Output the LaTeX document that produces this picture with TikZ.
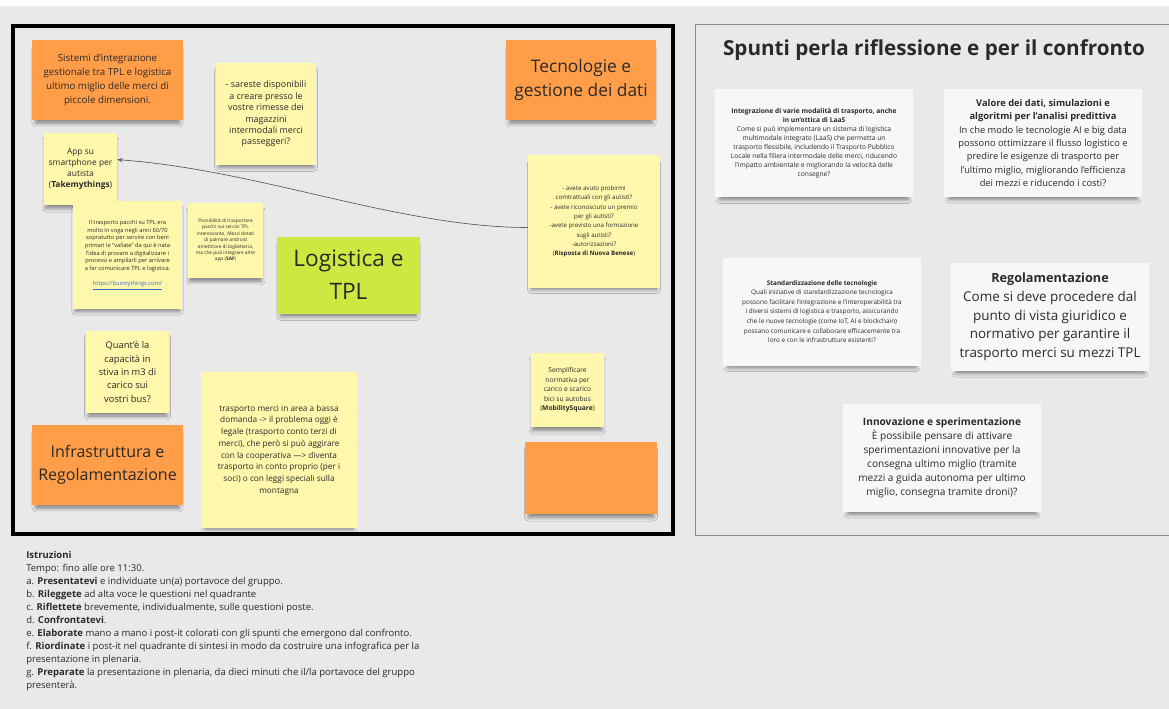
\documentclass[tikz,border=0pt]{standalone}
\usepackage{fontspec}
\setmainfont{Open Sans}
\usepackage{tikz}
\usetikzlibrary{positioning, arrows.meta, shadows.blur}

\definecolor{board}{HTML}{E9E9E9}
\definecolor{stickyyellow}{HTML}{FFF7AC}
\definecolor{stickyorange}{HTML}{FF9D48}
\definecolor{stickygreen}{HTML}{CEE741}
\definecolor{cardwhite}{HTML}{F7F7F8}
\definecolor{inktext}{HTML}{2A2A2A}
\definecolor{linkblue}{HTML}{2D6BD8}

\tikzset{
    sticky/.style={align=center, inner sep=2pt, text=inktext,
        blur shadow={shadow xshift=0pt, shadow yshift=-4pt, shadow scale=0.95,
            shadow blur radius=3pt, shadow opacity=45}},
    yellownote/.style={sticky, fill=stickyyellow},
    orangenote/.style={sticky, fill=stickyorange},
    greennote/.style={sticky, fill=stickygreen},
    card/.style={sticky, fill=cardwhite, minimum width=148.5pt, minimum height=81pt},
    arrowline/.style={-{Stealth[length=4pt, width=3pt]}, line width=0.5pt, draw=black!65},
}

\begin{document}
\begin{tikzpicture}[x=0.75pt, y=-0.75pt]
            \fill[white] (0, 0) rectangle (1169, 709);
            \fill[board] (0, 6) rectangle (1169, 709);
            \useasboundingbox (0, 0) rectangle (1169, 709);

            \draw[line width=3pt] (13, 26) rectangle (673, 534);
            \draw[black!45, line width=0.75pt] (695, 25) rectangle (1185, 535);

            \node[orangenote, minimum width=113.25pt, minimum height=60pt, font=\fontsize{7.3}{10.5}\selectfont] (integ) at (107.5, 80) {Sistemi d’integrazione\\gestionale tra TPL e logistica\\ultimo miglio delle merci di\\piccole dimensioni.};
            \node[yellownote, minimum width=75pt, minimum height=76.5pt, font=\fontsize{6.7}{8.6}\selectfont] (rimesse) at (266, 114) {- sareste disponibili\\a creare presso le\\vostre rimesse dei\\magazzini\\intermodali merci\\passeggeri?};
            \node[orangenote, minimum width=112.5pt, minimum height=60pt, font=\fontsize{13}{18}\selectfont] (tecno) at (581, 80) {Tecnologie e\\gestione dei dati};
            \node[yellownote, minimum width=54.75pt, minimum height=54pt, font=\fontsize{6.3}{8.2}\selectfont] (app) at (80.5, 169) {App su\\smartphone per\\autista\\(\textbf{Takemythings})};
            \node[yellownote, minimum width=81.75pt, minimum height=81pt, font=\fontsize{4.3}{5.7}\selectfont] (pacchi) at (127.5, 255) {Il trasporto pacchi su TPL era\\molto in voga negli anni 60/70\\sopratutto per servire con beni\\primari le "vallate" da qui è nata\\l’idea di provare a digitalizzare i\\processi e ampliarli per arrivare\\a far comunicare TPL e logistica.\\[5.7pt]{\color{linkblue}\underline{https://busmythings.com/}}};
            \node[yellownote, minimum width=56.25pt, minimum height=56.25pt, font=\fontsize{3.6}{4.8}\selectfont] (possib) at (225.5, 240.5) {Possibilità di trasportare\\pacchi sui servizi TPL\\interessante. Mezzi dotati\\di palmare android\\emettitore di biglietteria,\\ma che può integrare altre\\app (\textbf{SAF})};
            \node[greennote, minimum width=107.25pt, minimum height=57.75pt, font=\fontsize{17}{25}\selectfont] (logist) at (348.5, 275) {Logistica e\\TPL};
            \node[yellownote, minimum width=99pt, minimum height=99.75pt, font=\fontsize{4.6}{7}\selectfont] (avete) at (594, 221.5) {- avete avuto probirmi\\comtrattuali con gli autisti?\\- avete riconosciuto un premio\\per gli autisti?\\-avete previsto una formazione\\sugli autisti?\\-autorizzazioni?\\(\textbf{Risposta di Nuova Benese})};
            \node[yellownote, minimum width=62.25pt, minimum height=61.5pt, font=\fontsize{7}{10}\selectfont] (quant) at (127.5, 372) {Quant'è la\\capacità in\\stiva in m3 di\\carico sui\\vostri bus?};
            \node[orangenote, minimum width=113.25pt, minimum height=60pt, font=\fontsize{12}{17.5}\selectfont] (infra) at (107.5, 465) {Infrastruttura e\\Regolamentazione};
            \node[yellownote, minimum width=117pt, minimum height=117pt, font=\fontsize{6.2}{8.8}\selectfont] (bassa) at (279, 450) {trasporto merci in area a bassa\\domanda -> il problema oggi è\\legale (trasporto conto terzi di\\merci), che però si può aggirare\\con la cooperativa —> diventa\\trasporto in conto proprio (per i\\soci) o con leggi speciali sulla\\montagna};
            \node[yellownote, minimum width=54.75pt, minimum height=55.5pt, font=\fontsize{5}{7.2}\selectfont] (sempl) at (567.5, 390) {Semplificare\\normativa per\\carico e scarico\\bici su autobus\\(\textbf{MobilitySquare})};
            \node[orangenote, minimum width=99pt, minimum height=54pt] (vuoto) at (591, 478) {};

            \draw[arrowline] ([yshift=-4.5pt]avete.west) .. controls +(-128, 0) and +(141, 10) .. ([yshift=7pt]app.east);

            \node[font=\bfseries\fontsize{15.5}{18}\selectfont, text=inktext] (spunti) at (934, 50) {Spunti perla riflessione e per il confronto};

            \node[card, font=\fontsize{5}{6.8}\selectfont] (laas) at (814, 143.5) {\textbf{Integrazione di varie modalità di trasporto, anche}\\\textbf{in un’ottica di LaaS}\\Come si può implementare un sistema di logistica\\multimodale integrato (LaaS) che permetta un\\trasporto flessibile, includendo il Trasporto Pubblico\\Locale nella filiera intermodale delle merci, riducendo\\l’impatto ambientale e migliorando la velocità delle\\consegne?};
            \node[card, font=\fontsize{7}{10}\selectfont] (valore) at (1043, 143) {\textbf{Valore dei dati, simulazioni e}\\\textbf{algoritmi per l’analisi predittiva}\\In che modo le tecnologie AI e big data\\possono ottimizzare il flusso logistico e\\predire le esigenze di trasporto per\\l’ultimo miglio, migliorando l’efficienza\\dei mezzi e riducendo i costi?};
            \node[card, font=\fontsize{4.8}{7.2}\selectfont] (standard) at (822, 311.5) {\textbf{Standardizzazione delle tecnologie}\\Quali iniziative di standardizzazione tecnologica\\possono facilitare l’integrazione e l’interoperabilità tra\\i diversi sistemi di logistica e trasporto, assicurando\\che le nuove tecnologie (come IoT, AI e blockchain)\\possano comunicare e collaborare efficacemente tra\\loro e con le infrastrutture esistenti?};
            \node[card, font=\fontsize{10.1}{14}\selectfont] (regole) at (1050, 317) {\textbf{\fontsize{9.5}{14}\selectfont Regolamentazione}\\Come si deve procedere dal\\punto di vista giuridico e\\normativo per garantire il\\trasporto merci su mezzi TPL};
            \node[card, font=\fontsize{7.6}{10.5}\selectfont] (innova) at (942, 458) {\textbf{Innovazione e sperimentazione}\\È possibile pensare di attivare\\sperimentazioni innovative per la\\consegna ultimo miglio (tramite\\mezzi a guida autonoma per ultimo\\miglio, consegna tramite droni)?};

            \node[anchor=north west, align=left, inner sep=0pt, text=inktext, font=\fontsize{7.15}{9.75}\selectfont] (istruzioni) at (26, 551) {\textbf{Istruzioni}\\Tempo: fino alle ore 11:30.\\a. \textbf{Presentatevi} e individuate un(a) portavoce del gruppo.\\b. \textbf{Rileggete} ad alta voce le questioni nel quadrante\\c. \textbf{Riflettete} brevemente, individualmente, sulle questioni poste.\\d. \textbf{Confrontatevi}.\\e. \textbf{Elaborate} mano a mano i post-it colorati con gli spunti che emergono dal confronto.\\f. \textbf{Riordinate} i post-it nel quadrante di sintesi in modo da costruire una infografica per la\\presentazione in plenaria.\\g. \textbf{Preparate} la presentazione in plenaria, da dieci minuti che il/la portavoce del gruppo\\presenterà.};
\end{tikzpicture}
\end{document}
